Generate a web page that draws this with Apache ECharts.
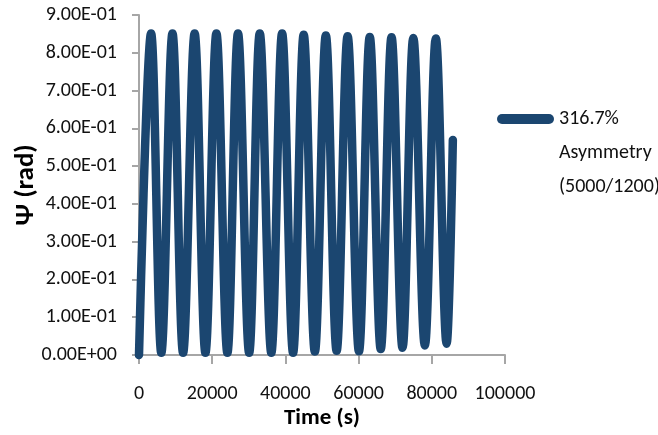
<!DOCTYPE html>
<html>
<head>
<meta charset="utf-8">
<script src="https://cdn.jsdelivr.net/npm/echarts@6/dist/echarts.min.js"></script>
<style>
html,body{margin:0;padding:0;background:#fff;}
#chart{width:658px;height:435px;}
</style>
</head>
<body>
<div id="chart"></div>
<script>
// Time (s) of the read extrema and end point
var timeS = [0, 3300, 6100, 9150, 12050, 15200, 18150, 21150, 24150, 27050, 30100, 33000, 36150, 39100, 42100,
  45000, 48050, 51050, 54000, 57000, 60100, 63050, 66050, 69000, 72000, 74950, 78100, 81100, 84050, 85750];
// Psi (rad)
var psiRad = [0, 0.851, 0.006, 0.851, 0.006, 0.851, 0.006, 0.851, 0.006, 0.851, 0.006, 0.851, 0.006, 0.851, 0.006,
  0.848, 0.009, 0.846, 0.011, 0.844, 0.010, 0.842, 0.016, 0.841, 0.019, 0.839, 0.025, 0.838, 0.030, 0.569];
var yTickLabels = ['0.00E+00', '1.00E-01', '2.00E-01', '3.00E-01', '4.00E-01', '5.00E-01',
  '6.00E-01', '7.00E-01', '8.00E-01', '9.00E-01'];
var xTickLabels = ['0', '20000', '40000', '60000', '80000', '100000'];
var seriesName = '316.7%\nAsymmetry\n(5000/1200)';

var FONT = "Carlito, Lato, 'Liberation Sans', sans-serif";
var LINE = '#1b4670';
var AXIS = '#a6a6a6';

var pts = timeS.map(function (t, i) { return [t, psiRad[i]]; });

var chart = echarts.init(document.getElementById('chart'), null, {renderer: 'canvas'});
chart.setOption({
  animation: false,
  backgroundColor: '#ffffff',
  grid: {left: 139, top: 15, width: 366, height: 340, containLabel: false, outerBoundsMode: 'none'},
  legend: {
    show: true,
    left: 497,
    top: 34,
    padding: 0,
    itemWidth: 57,
    itemHeight: 10,
    icon: 'path://M5,0H52A5,5,0,0,1,52,10H5A5,5,0,0,1,5,0Z',
    itemStyle: {color: LINE},
    formatter: function (name) { return '\n\n' + name; },
    textStyle: {fontFamily: FONT, fontSize: 20, color: '#111', lineHeight: 34},
    data: [seriesName]
  },
  xAxis: {
    type: 'value',
    min: 0, max: 100000, interval: 20000,
    name: 'Time (s)',
    nameLocation: 'middle',
    nameGap: 52,
    nameMoveOverlap: false,
    nameTextStyle: {fontFamily: FONT, fontSize: 23, fontWeight: 'bold', color: '#000'},
    axisLine: {show: true, lineStyle: {color: AXIS, width: 2}},
    axisTick: {show: true, length: 9, lineStyle: {color: AXIS, width: 2}},
    splitLine: {show: false},
    axisLabel: {
      fontFamily: FONT, fontSize: 20, color: '#111', margin: 29,
      formatter: function (v) { return xTickLabels[Math.round(v / 20000)]; }
    }
  },
  yAxis: {
    type: 'value',
    min: 0, max: 0.9, interval: 0.1,
    name: 'Ψ (rad)',
    nameLocation: 'middle',
    nameRotate: 90,
    nameGap: 99,
    nameMoveOverlap: false,
    nameTextStyle: {fontFamily: FONT, fontSize: 27, fontWeight: 'bold', color: '#000'},
    axisLine: {show: true, lineStyle: {color: AXIS, width: 2}},
    axisTick: {show: true, length: 7, lineStyle: {color: AXIS, width: 2}},
    splitLine: {show: false},
    axisLabel: {
      fontFamily: FONT, fontSize: 20, color: '#111', margin: 22,
      padding: [6, 0, 0, 0],
      formatter: function (v) { return yTickLabels[Math.round(v * 10)]; }
    }
  },
  series: [{
    name: seriesName,
    type: 'line',
    data: pts,
    smooth: 0.36,
    showSymbol: false,
    symbol: 'none',
    clip: false,
    lineStyle: {color: LINE, width: 8.5, cap: 'round', join: 'round'},
    itemStyle: {color: LINE}
  }]
});
</script>
</body>
</html>
